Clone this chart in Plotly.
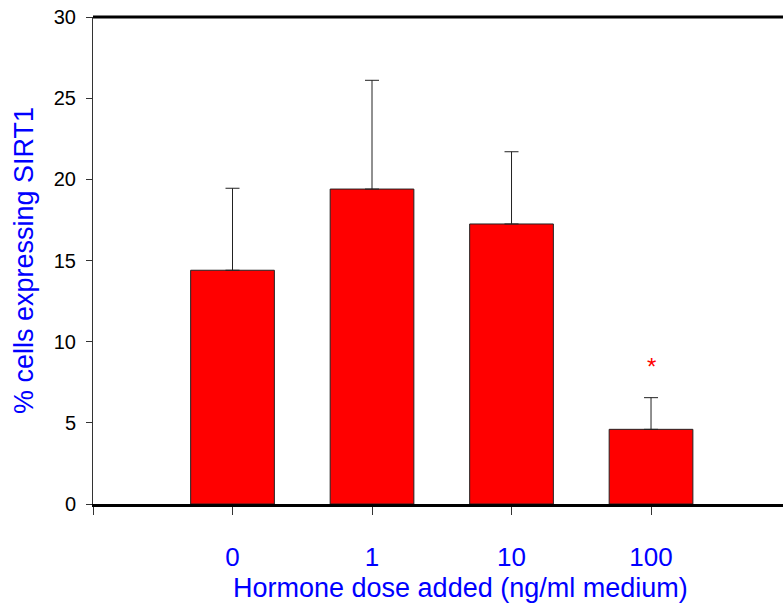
import plotly.graph_objects as go

doses = ["0", "1", "10", "100"]
positions = [0, 1, 2, 3]
means = [14.4, 19.4, 17.25, 4.6]
err_upper = [5.05, 6.7, 4.45, 1.95]
star_value = 8.6
y_ticks = [0, 5, 10, 15, 20, 25, 30]

fig = go.Figure()
fig.add_trace(go.Bar(
    x=positions, y=means, width=0.6,
    marker=dict(color="#ff0000", line=dict(color="#222222", width=1)),
    error_y=dict(type="data", symmetric=False, array=err_upper,
                 arrayminus=[0]*len(means), color="#222222", thickness=1, width=7),
    showlegend=False,
))
fig.add_annotation(x=3, y=star_value, text="*", showarrow=False, xref="x", yref="y",
                   yshift=-2, font=dict(color="#ff0000", size=24, family="Liberation Sans"))
fig.add_annotation(text="Hormone dose added (ng/ml medium)", showarrow=False,
                   xref="paper", yref="paper", x=0.532, y=-0.172,
                   xanchor="center", yanchor="middle",
                   font=dict(size=27, color="#0000ff"))
fig.add_shape(type="line", xref="paper", yref="paper", x0=0, x1=1, y0=1, y1=1,
              line=dict(color="black", width=3))

fig.update_layout(
    width=783, height=608,
    margin=dict(l=93, r=0, t=17, b=104),
    plot_bgcolor="white", paper_bgcolor="white",
    font=dict(family="Liberation Sans, Arial", color="black"),
    xaxis=dict(
        range=[-1, 3.946], tickmode="array", tickvals=[-1] + positions,
        ticktext=[""] + doses, ticks="outside", ticklen=8, tickwidth=1, tickcolor="#333",
        showline=True, linecolor="black", linewidth=2.5, showgrid=False, zeroline=False,
        tickfont=dict(size=26, color="#0000ff"), ticklabelstandoff=20,
    ),
    yaxis=dict(
        range=[0, 30], tickmode="array", tickvals=y_ticks,
        ticks="outside", ticklen=6, tickwidth=1, tickcolor="#333",
        showline=True, linecolor="#333", linewidth=1, showgrid=False, zeroline=False,
        tickfont=dict(size=20, color="black"), ticklabelstandoff=6,
        title=dict(text="% cells expressing SIRT1", font=dict(size=27, color="#0000ff"), standoff=12),
    ),
)
fig.write_html("out.html", config={"displayModeBar": False},
               post_script="document.body.style.margin='0';")
